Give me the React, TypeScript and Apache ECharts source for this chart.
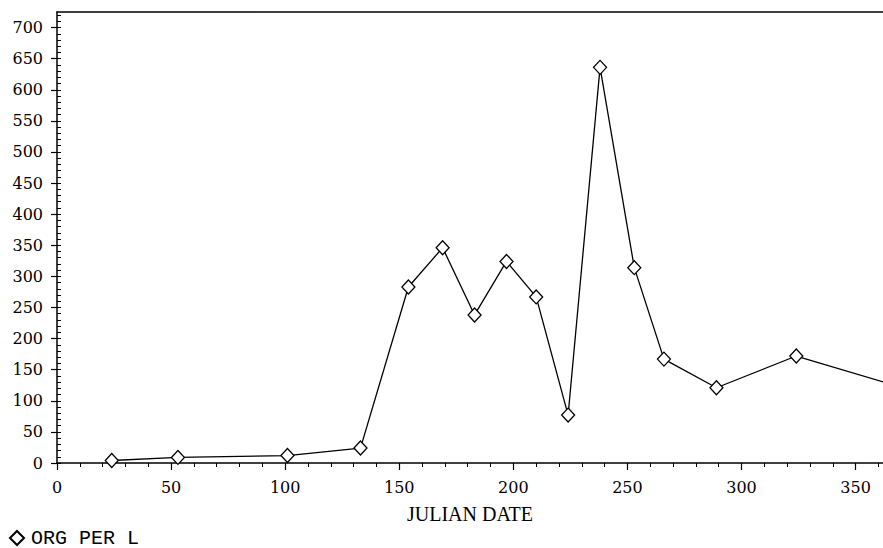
import React, { useEffect, useRef } from "react";
import * as echarts from "echarts";

const julianDays = [24, 53, 101, 133, 154, 169, 183, 197, 210, 224, 238, 253, 266, 289, 324, 366];
const orgPerL = [4, 9, 12, 24, 283, 346, 238, 324, 267, 77, 636, 314, 167, 121, 172, 126];
const xTickLabels = [0, 50, 100, 150, 200, 250, 300, 350];
const yTickLabels = [0, 50, 100, 150, 200, 250, 300, 350, 400, 450, 500, 550, 600, 650, 700];
const xMinorTicks = [0, 10, 20, 30, 40, 50, 60, 70, 80, 90, 100, 110, 120, 130, 140, 150, 160, 170, 180, 190, 200, 210, 220, 230, 240, 250, 260, 270, 280, 290, 300, 310, 320, 330, 340, 350, 360];
const yMinorTicks = [0, 10, 20, 30, 40, 50, 60, 70, 80, 90, 100, 110, 120, 130, 140, 150, 160, 170, 180, 190, 200, 210, 220, 230, 240, 250, 260, 270, 280, 290, 300, 310, 320, 330, 340, 350, 360, 370, 380, 390, 400, 410, 420, 430, 440, 450, 460, 470, 480, 490, 500, 510, 520, 530, 540, 550, 560, 570, 580, 590, 600, 610, 620, 630, 640, 650, 660, 670, 680, 690, 700, 710, 720];
const seriesName = "ORG PER L";
const xAxisTitle = "JULIAN DATE";

const X_MIN = 0, X_MAX = 362, Y_MIN = 0, Y_MAX = 725;

export default function App() {
  const ref = useRef<HTMLDivElement>(null);
  useEffect(() => {
    document.body.style.margin = "0";
    const chart = echarts.init(ref.current!, undefined, { renderer: "svg" });
    const axisFont = { fontFamily: "DejaVu Serif", fontSize: 16, color: "#000" };
    const line = { show: true, lineStyle: { color: "#000", width: 1.5 } };
    chart.setOption({
      animation: false,
      backgroundColor: "#fff",
      grid: { left: 57, right: 0, top: 12, bottom: 85, containLabel: false },
      legend: {
        data: [seriesName],
        left: 9,
        top: 528,
        icon: "diamond",
        itemWidth: 14,
        itemHeight: 14,
        itemGap: 8,
        padding: 0,
        textStyle: { fontFamily: "Liberation Mono", fontSize: 20, lineHeight: 18, color: "#000", padding: [0, 0, 0, 2] },
      },
      xAxis: [
        {
          type: "value", position: "bottom", min: X_MIN, max: X_MAX, interval: 50,
          axisLine: line,
          axisTick: { show: true, length: 7, customValues: xTickLabels, lineStyle: { color: "#000", width: 1.2 } },
          axisLabel: { ...axisFont, margin: 16, customValues: xTickLabels },
          splitLine: { show: false },
          name: xAxisTitle, nameLocation: "middle", nameGap: 41,
          nameTextStyle: { fontFamily: "Liberation Serif", fontSize: 20, color: "#000" },
        },
        {
          type: "value", position: "bottom", min: X_MIN, max: X_MAX, interval: 10,
          axisLine: { show: false },
          axisTick: { show: true, length: 4, customValues: xMinorTicks, lineStyle: { color: "#000", width: 1 } },
          axisLabel: { show: false },
          splitLine: { show: false },
        },
        {
          type: "value", position: "top", min: X_MIN, max: X_MAX,
          axisLine: line, axisTick: { show: false }, axisLabel: { show: false }, splitLine: { show: false },
        },
      ],
      yAxis: [
        {
          type: "value", position: "left", min: Y_MIN, max: Y_MAX, interval: 50,
          axisLine: line,
          axisTick: { show: true, length: 6, customValues: yTickLabels, lineStyle: { color: "#000", width: 1.2 } },
          axisLabel: { ...axisFont, margin: 14, customValues: yTickLabels },
          splitLine: { show: false },
        },
        {
          type: "value", position: "left", min: Y_MIN, max: Y_MAX, interval: 10,
          axisLine: { show: false },
          axisTick: { show: true, inside: true, length: 4, customValues: yMinorTicks, lineStyle: { color: "#000", width: 1 } },
          axisLabel: { show: false },
          splitLine: { show: false },
        },
      ],
      series: [
        {
          name: seriesName,
          type: "line",
          xAxisIndex: 0,
          yAxisIndex: 0,
          data: julianDays.map((d, i) => [d, orgPerL[i]]),
          symbol: "diamond",
          symbolSize: [13, 14],
          showAllSymbol: true,
          clip: true,
          lineStyle: { color: "#000", width: 1.3 },
          itemStyle: { color: "#fff", borderColor: "#000", borderWidth: 1.3 },
          z: 3,
        },
      ],
    });
    return () => chart.dispose();
  }, []);
  return <div ref={ref} style={{ width: 883, height: 548 }} />;
}
